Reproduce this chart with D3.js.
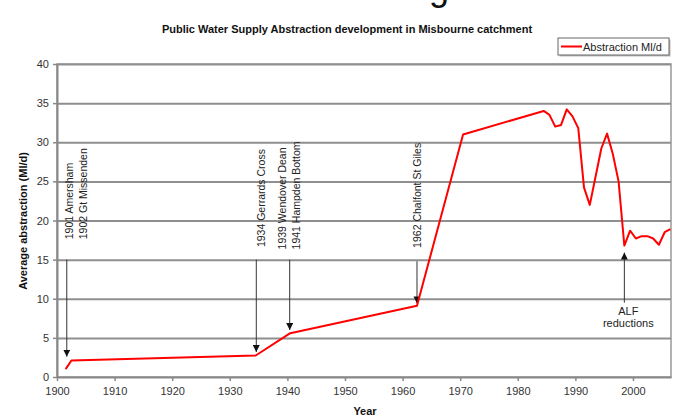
<!DOCTYPE html>
<html>
<head>
<meta charset="utf-8">
<script src="https://cdn.jsdelivr.net/npm/d3@7"></script>
<style>
  html, body { margin: 0; padding: 0; background: #fff; }
  svg { display: block; font-family: "Liberation Sans", Arial, sans-serif; }
</style>
</head>
<body>
<svg id="chart" width="673" height="417"></svg>
<script>
// Public water supply abstraction in the Misbourne catchment (Ml/d)
const years = [1901.5, 1902.5, 1934.5, 1940.5, 1962.5, 1970.5,
  1984.5, 1985.5, 1986.5, 1987.5, 1988.5, 1989.5, 1990.5, 1991.5, 1992.5,
  1993.5, 1994.5, 1995.5, 1996.5, 1997.5, 1998.5, 1999.5, 2000.5, 2001.5,
  2002.5, 2003.5, 2004.5, 2005.5, 2006.5];
const abstraction = [1.0, 2.1, 2.75, 5.6, 9.1, 31.0,
  34.0, 33.5, 32.0, 32.2, 34.2, 33.3, 31.8, 24.2, 22.0,
  25.6, 29.2, 31.1, 28.5, 25.0, 16.8, 18.7, 17.7, 18.0,
  18.0, 17.7, 16.9, 18.5, 18.9];

const xTicks = [1900, 1910, 1920, 1930, 1940, 1950, 1960, 1970, 1980, 1990, 2000];
const yTicks = [0, 5, 10, 15, 20, 25, 30, 35, 40];

// Source commissioning notes: arrow runs from `from` to `to` (Ml/d) at `year`
const noteYears = [1901.7, 1934.6, 1940.4, 1962.5];
const noteLines = [["1901 Amersham", "1902 Gt Missenden"], ["1934 Gerrards Cross"],
  ["1939 Wendover Dean", "1941 Hampden Bottom"], ["1962 Chalfont St Giles"]];
const noteLabelYears = [1903.3, 1935.5, 1940.3, 1962.6];
const noteLabelBase = [17.6, 16.6, 16.3, 16.5];
const noteFrom = [15, 15, 15, 14.8];
const noteTo = [2.6, 3.2, 6.0, 9.4];

const alfYear = 1998.5;
const alfFrom = 9.5, alfTo = 15.9;
const alfLines = ["ALF", "reductions"];

const svg = d3.select("#chart");
const plotLeft = 57, plotRight = 671, plotTop = 64, plotBottom = 377;

const x = d3.scaleLinear().domain([1900, 2006.6]).range([plotLeft, plotRight]);
const y = d3.scaleLinear().domain([0, 40]).range([plotBottom, plotTop]);

// cropped page heading above the chart
svg.append("text").attr("x", 429).attr("y", 0).attr("font-size", 36)
  .attr("fill", "#111").text("g");

// title
svg.append("text").attr("x", 347).attr("y", 33).attr("text-anchor", "middle")
  .attr("font-size", 11).attr("font-weight", "bold").attr("fill", "#111")
  .text("Public Water Supply Abstraction development in Misbourne catchment");

// plot frame
svg.append("rect").attr("x", plotLeft).attr("y", y(40)).attr("width", plotRight - plotLeft)
  .attr("height", plotBottom - y(40)).attr("fill", "#fff").attr("stroke", "#999").attr("stroke-width", 1.5);

// horizontal gridlines
svg.append("g").attr("transform", `translate(${plotLeft},0)`)
  .call(d3.axisLeft(y).tickValues(yTicks.slice(1)).tickSize(-(plotRight - plotLeft)).tickFormat(""))
  .call(g => g.select(".domain").remove())
  .call(g => g.selectAll("line").attr("stroke", "#8f8f8f").attr("stroke-width", 2));

// y axis
const yAxis = svg.append("g").attr("transform", `translate(${plotLeft},0)`)
  .call(d3.axisLeft(y).tickValues(yTicks).tickSize(4).tickPadding(4).tickSizeOuter(0));
yAxis.select(".domain").attr("stroke", "#888").attr("stroke-width", 2);
yAxis.selectAll(".tick line").attr("stroke", "#888").attr("stroke-width", 1.5);
yAxis.selectAll("text").attr("font-size", 11).attr("fill", "#333")
  .attr("font-family", "Liberation Sans, Arial, sans-serif");

// x axis
const xAxis = svg.append("g").attr("transform", `translate(0,${plotBottom})`)
  .call(d3.axisBottom(x).tickValues(xTicks).tickSize(4).tickPadding(6)
    .tickFormat(d3.format("d")).tickSizeOuter(0));
xAxis.select(".domain").attr("stroke", "#888").attr("stroke-width", 2);
xAxis.selectAll(".tick line").attr("stroke", "#888").attr("stroke-width", 1.5);
xAxis.selectAll("text").attr("font-size", 11).attr("fill", "#333")
  .attr("font-family", "Liberation Sans, Arial, sans-serif");

// axis titles
svg.append("text").attr("x", 365).attr("y", 415).attr("text-anchor", "middle")
  .attr("font-size", 11).attr("font-weight", "bold").attr("fill", "#111").text("Year");
svg.append("text").attr("transform", "translate(27,221) rotate(-90)")
  .attr("text-anchor", "middle").attr("font-size", 11).attr("font-weight", "bold")
  .attr("fill", "#111").text("Average abstraction (Ml/d)");

// arrowhead marker
svg.append("defs").append("marker").attr("id", "head")
  .attr("viewBox", "0 0 10 10").attr("refX", 10).attr("refY", 5)
  .attr("markerWidth", 7).attr("markerHeight", 7).attr("markerUnits", "userSpaceOnUse")
  .attr("orient", "auto")
  .append("path").attr("d", "M0,0L10,5L0,10Z").attr("fill", "#111");

// annotation arrows and rotated labels
noteYears.forEach((yr, i) => {
  svg.append("line").attr("x1", x(yr)).attr("x2", x(yr))
    .attr("y1", y(noteFrom[i])).attr("y2", y(noteTo[i]))
    .attr("stroke", "#333").attr("stroke-width", 1).attr("marker-end", "url(#head)");
  const lines = noteLines[i];
  const lh = 14;
  const cx = x(noteLabelYears[i]);
  const t = svg.append("text")
    .attr("transform", `translate(${cx},${y(noteLabelBase[i])}) rotate(-90)`)
    .attr("font-size", 10.5).attr("fill", "#222");
  lines.forEach((s, j) => {
    const off = (j - (lines.length - 1) / 2) * lh;
    t.append("tspan").attr("x", 0).attr("y", off).attr("dy", "0.35em").text(s);
  });
});

svg.append("line").attr("x1", x(alfYear)).attr("x2", x(alfYear))
  .attr("y1", y(alfFrom)).attr("y2", y(alfTo))
  .attr("stroke", "#333").attr("stroke-width", 1).attr("marker-end", "url(#head)");
alfLines.forEach((s, j) => {
  svg.append("text").attr("x", x(alfYear) + 4).attr("y", 315 + j * 12)
    .attr("text-anchor", "middle").attr("font-size", 11).attr("fill", "#222").text(s);
});

// abstraction series
const pts = years.map((yr, i) => [yr, abstraction[i]]);
svg.append("path").datum(pts)
  .attr("fill", "none").attr("stroke", "#ff0000").attr("stroke-width", 2)
  .attr("stroke-linejoin", "round")
  .attr("d", d3.line().x(d => x(d[0])).y(d => y(d[1])));

// legend
const lg = svg.append("g").attr("transform", "translate(558,38)");
lg.append("rect").attr("x", 1.5).attr("y", 1.5).attr("width", 111).attr("height", 17)
  .attr("fill", "#bbb");
lg.append("rect").attr("width", 111).attr("height", 17)
  .attr("fill", "#fff").attr("stroke", "#666").attr("stroke-width", 1);
lg.append("line").attr("x1", 3).attr("x2", 24).attr("y1", 8.5).attr("y2", 8.5)
  .attr("stroke", "#ff0000").attr("stroke-width", 2);
lg.append("text").attr("x", 25).attr("y", 12.5).attr("font-size", 11)
  .attr("fill", "#222").text("Abstraction Ml/d");
</script>
</body>
</html>
